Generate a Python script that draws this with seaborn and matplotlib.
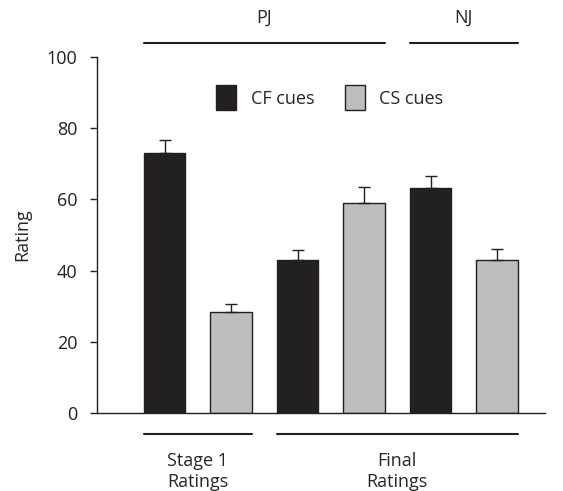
import pandas as pd
import seaborn as sns
import matplotlib.pyplot as plt
from matplotlib.patches import Patch

# Data
conditions = ['S1 CF', 'S1 CS', 'PJ CF', 'PJ CS', 'NJ CF', 'NJ CS']
cues = ['CF cues', 'CS cues', 'CF cues', 'CS cues', 'CF cues', 'CS cues']
ratings = [73.0, 28.3, 43.0, 59.1, 63.2, 43.0]
sem = [3.6, 2.3, 2.9, 4.5, 3.4, 3.0]
yticks = [0, 20, 40, 60, 80, 100]

cue_colors = {'CF cues': '#231f20', 'CS cues': '#bcbec0'}
edge = '#231f20'

df = pd.DataFrame({'condition': conditions, 'cue': cues, 'rating': ratings})

sns.set_style('white')
plt.rcParams['font.family'] = ['Open Sans', 'DejaVu Sans']
fs = 13

fig = plt.figure(figsize=(5.63, 4.91), dpi=100)
ax = fig.add_axes([97 / 563, 78 / 491, 448 / 563, 356 / 491])

sns.barplot(data=df, x='condition', y='rating', hue='cue', order=conditions,
            palette=cue_colors, dodge=False, width=0.62, errorbar=None,
            edgecolor=edge, linewidth=1.0, legend=False, ax=ax)

# one-sided error bars
xs = list(range(len(conditions)))
ax.errorbar(xs, ratings, yerr=[[0] * len(sem), sem], fmt='none',
            ecolor=edge, elinewidth=1.0, capsize=4, capthick=1.0, zorder=3)

ax.set_xlim(-1.015, 5.72)
ax.set_ylim(0, 100)
ax.set_yticks(yticks)
ax.set_xticks([])
ax.set_xlabel('')
ax.set_ylabel('Rating', fontsize=fs, labelpad=11)
ax.tick_params(axis='y', direction='out', length=5, width=1, color='#231f20',
               labelsize=fs, pad=9, left=True, labelcolor='#231f20')
for s in ['top', 'right']:
    ax.spines[s].set_visible(False)
for s in ['left', 'bottom']:
    ax.spines[s].set_color('#231f20')
    ax.spines[s].set_linewidth(1.0)

# group brackets above and below
w = 0.31
lw = 1.5
ax.plot([0 - w, 3 + w], [104, 104], color='#231f20', lw=lw, clip_on=False)
ax.plot([4 - w, 5 + w], [104, 104], color='#231f20', lw=lw, clip_on=False)
ax.text(1.5, 111, 'PJ', ha='center', va='center', fontsize=fs)
ax.text(4.5, 111, 'NJ', ha='center', va='center', fontsize=fs)

ax.plot([0 - w, 1 + w], [-6, -6], color='#231f20', lw=lw, clip_on=False)
ax.plot([2 - w, 5 + w], [-6, -6], color='#231f20', lw=lw, clip_on=False)
ax.text(0.5, -16.5, 'Stage 1\nRatings', ha='center', va='center',
        fontsize=fs, linespacing=1.25)
ax.text(3.5, -16.5, 'Final\nRatings', ha='center', va='center',
        fontsize=fs, linespacing=1.25)

handles = [Patch(facecolor=cue_colors[c], edgecolor=edge, linewidth=1.0, label=c)
           for c in ['CF cues', 'CS cues']]
ax.legend(handles=handles, ncol=2, frameon=False, loc='center',
          bbox_to_anchor=(0.52, 0.885), handlelength=1.1, handleheight=1.75,
          handletextpad=0.8, columnspacing=1.7, fontsize=fs)

fig.savefig('out.png', dpi=100)
